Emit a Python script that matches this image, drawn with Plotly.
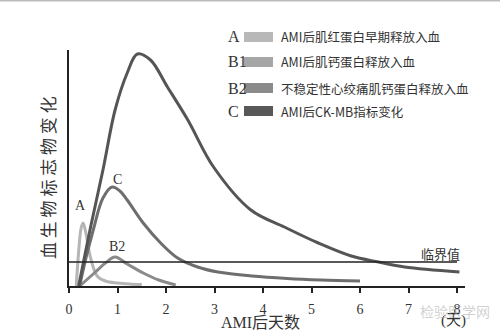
import plotly.graph_objects as go

# ---------------- data ----------------
A_x = [0.15, 0.2, 0.25, 0.29, 0.34, 0.44, 0.58, 0.75, 1.0, 1.25, 1.5]
A_y = [0, 35, 58, 63, 55, 29, 10, 5, 3, 2, 1.5]

B1_x = [0.2, 0.45, 0.7, 0.95, 1.2, 1.41, 1.68, 2.03, 2.45, 2.98, 3.75, 4.44, 5.14, 5.82, 6.38, 6.92, 8.05]
B1_y = [0, 60, 116, 176, 213, 232, 226, 199, 166, 119, 76, 59, 43, 30, 24, 19, 14]

C_x = [0.22, 0.35, 0.5, 0.7, 0.89, 1.05, 1.2, 1.53, 1.89, 2.24, 2.65, 3.07, 3.77, 4.5, 5.2, 6.0]
C_y = [0, 28, 56, 88, 99, 95, 86, 63, 43, 28, 19, 14, 10, 7.5, 6, 5]

B2_x = [0.22, 0.5, 0.75, 0.95, 1.2, 1.53, 1.85, 2.2]
B2_y = [0, 12, 23, 29, 22, 13, 6, 1]

threshold_x = [0, 8.0]
threshold_y = [24, 24]

x_ticks = [0, 1, 2, 3, 4, 5, 6, 7, 8]
x_ticktext = ["0", "1", "2", "3", "4", "5", "6", "7", "8"]

legend_keys = ["A", "B1", "B2", "C"]
legend_texts = ["AMI后肌红蛋白早期释放入血", "AMI后肌钙蛋白释放入血",
                "不稳定性心绞痛肌钙蛋白释放入血", "AMI后CK-MB指标变化"]
legend_colors = ["#b8b8b8", "#a6a6a6", "#8a8a8a", "#585858"]

y_title = "血生物标志物变化"

# ---------------- layout constants ----------------
W, H = 500, 332
L, R, T, B = 69, 35, 50, 46
PW, PH = W - L - R, H - T - B
PX_PER_UNIT = 48.5

def px(x):
    return (x - L) / PW

def py(y):
    return (H - B - y) / PH

SERIF = "Liberation Serif, Noto Sans CJK SC"
CJK = "Noto Sans CJK SC"

fig = go.Figure()

fig.add_trace(go.Scatter(x=A_x, y=A_y, mode="lines", line=dict(color="#b5b5b5", width=3, shape="spline"), hoverinfo="skip"))
fig.add_trace(go.Scatter(x=B2_x, y=B2_y, mode="lines", line=dict(color="#8a8a8a", width=3, shape="spline"), hoverinfo="skip"))
fig.add_trace(go.Scatter(x=C_x, y=C_y, mode="lines", line=dict(color="#6e6e6e", width=3, shape="spline"), hoverinfo="skip"))
fig.add_trace(go.Scatter(x=B1_x, y=B1_y, mode="lines", line=dict(color="#555555", width=3, shape="spline"), hoverinfo="skip"))
fig.add_trace(go.Scatter(x=threshold_x, y=threshold_y, mode="lines", line=dict(color="#222222", width=1.6), hoverinfo="skip"))

ann = []

def add_text(x, y, text, font, xref="x", yref="y", xanchor="center", angle=0):
    ann.append(dict(x=x, y=y, xref=xref, yref=yref, text=text, showarrow=False,
                    xanchor=xanchor, yanchor="middle", textangle=angle, font=font))

# curve labels
add_text(1.38, 250, "B1", dict(family=SERIF, size=15, color="#333"))
add_text(0.23, 81, "A", dict(family=SERIF, size=14, color="#333"))
add_text(1.0, 107, "C", dict(family=SERIF, size=14, color="#333"))
add_text(0.98, 40, "B2", dict(family=SERIF, size=14, color="#333"))
add_text(7.65, 33, "临界值", dict(family=CJK, size=13, color="#333"))

# axis titles
add_text(px(260), py(322), "AMI后天数", dict(family=SERIF, size=16, color="#333"), "paper", "paper")
add_text(px(453), py(320), "(天)", dict(family=SERIF, size=15, color="#333"), "paper", "paper")
add_text(px(47), py(178), " ".join(y_title), dict(family=CJK, size=17, color="#333"), "paper", "paper", angle=-90)
# watermark
add_text(px(455), py(311), "检验医学网", dict(family=CJK, size=14, color="rgba(170,170,170,0.55)"), "paper", "paper")

shapes = []
rows = [37, 62, 88, 111]
for key, txt, col, ry in zip(legend_keys, legend_texts, legend_colors, rows):
    add_text(px(226), py(ry), key, dict(family=SERIF, size=16, color="#333"), "paper", "paper", xanchor="left")
    add_text(px(279), py(ry), txt, dict(family=CJK, size=12.5, color="#333"), "paper", "paper", xanchor="left")
    shapes.append(dict(type="rect", xref="paper", yref="paper", x0=px(244), x1=px(273),
                       y0=py(ry + 5), y1=py(ry - 5), line=dict(width=0), fillcolor=col))

# thin top border
shapes.append(dict(type="line", xref="paper", yref="paper", x0=px(0), x1=px(500), y0=py(0.7), y1=py(0.7),
                   line=dict(color="#bbbbbb", width=1.5)))

fig.update_layout(
    width=W, height=H,
    margin=dict(l=L, r=R, t=T, b=B),
    paper_bgcolor="white", plot_bgcolor="white",
    showlegend=False,
    annotations=ann, shapes=shapes,
    xaxis=dict(range=[0, PW / PX_PER_UNIT], tickvals=x_ticks, ticktext=x_ticktext,
               showline=True, linecolor="#222", linewidth=2, ticks="outside", ticklen=5, tickwidth=2,
               tickcolor="#222", showgrid=False, zeroline=False, ticklabelstandoff=4,
               tickfont=dict(family=SERIF, size=14, color="#333")),
    yaxis=dict(range=[0, PH], showline=True, linecolor="#222", linewidth=2, showticklabels=False,
               ticks="", showgrid=False, zeroline=False),
)

fig.write_html("out.html")
